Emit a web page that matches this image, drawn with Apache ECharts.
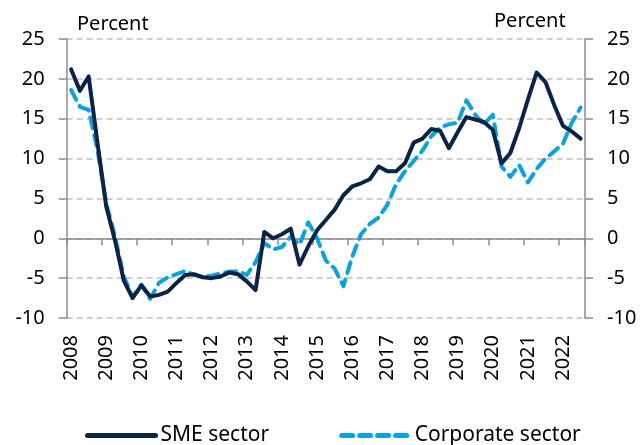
<!DOCTYPE html>
<html>
<head>
<meta charset="utf-8">
<script src="https://cdn.jsdelivr.net/npm/echarts@6/dist/echarts.min.js"></script>
<style>
html, body { margin: 0; padding: 0; background: #fff; }
#chart { width: 641px; height: 445px; }
</style>
</head>
<body>
<div id="chart"></div>
<script>
// quarterly data, 2008 Q1 - 2022 Q3
var years = ['2008','2009','2010','2011','2012','2013','2014','2015','2016','2017','2018','2019','2020','2021','2022'];
var yTicks = [-10, -5, 0, 5, 10, 15, 20, 25];

var smeSector = [
  21.2, 18.5, 20.3, 12.0,
  4.0, -0.3, -5.3, -7.5,
  -5.9, -7.3, -7.1, -6.7,
  -5.6, -4.6, -4.5, -4.9,
  -5.0, -4.8, -4.3, -4.5,
  -5.4, -6.5, 0.8, 0.0,
  0.5, 1.2, -3.3, -1.0,
  1.0, 2.3, 3.6, 5.4,
  6.5, 6.9, 7.4, 9.0,
  8.4, 8.4, 9.4, 12.0,
  12.5, 13.7, 13.5, 11.3,
  13.3, 15.2, 14.9, 14.6,
  13.6, 9.4, 10.7, 13.8,
  17.4, 20.8, 19.6, 16.7,
  14.1, 13.4, 12.5
];

var corporateSector = [
  18.6, 16.5, 16.1, 11.1,
  4.4, 0.2, -4.8, -7.4,
  -5.8, -7.6, -5.6, -4.9,
  -4.5, -4.1, -4.6, -4.8,
  -4.7, -4.4, -4.2, -4.1,
  -4.6, -3.0, -0.6, -1.4,
  -1.1, 0.2, -0.8, 2.0,
  0.0, -2.8, -3.8, -6.0,
  -2.3, 0.5, 1.8, 2.6,
  4.2, 6.8, 8.4, 9.7,
  11.0, 12.8, 13.9, 14.3,
  14.5, 17.3, 15.5, 14.3,
  15.5, 9.0, 7.7, 9.2,
  7.0, 8.7, 10.0, 10.9,
  11.9, 14.5, 16.4
];

var quarters = [];
years.forEach(function (y) {
  ['Q1', 'Q2', 'Q3', 'Q4'].forEach(function (q) {
    if (quarters.length < smeSector.length) quarters.push(y + q);
  });
});

var dom = document.getElementById('chart');
var myChart = echarts.init(dom, null, { renderer: 'canvas' });

var font = 'Noto Sans';
var gridLine = { show: true, lineStyle: { color: '#c0c0c0', width: 1.5, type: [6, 4] } };
var axisGray = '#8c8c8c';

var option = {
  animation: false,
  textStyle: { fontFamily: font },
  grid: { left: 66.7, right: 56, top: 39, bottom: 127 },
  graphic: [
    { type: 'text', left: 77, top: 14, style: { text: 'Percent', font: '20px "Noto Sans"', fill: '#000' } },
    { type: 'text', left: 494, top: 11, style: { text: 'Percent', font: '20px "Noto Sans"', fill: '#000' } }
  ],
  legend: {
    top: 420,
    left: 80,
    itemWidth: 68,
    itemHeight: 14,
    itemGap: 70,
    itemStyle: { opacity: 0 },
    lineStyle: { width: 5, cap: 'round' },
    textStyle: { fontFamily: font, fontSize: 21, color: '#000' },
    data: ['SME sector', 'Corporate sector']
  },
  xAxis: [
    {
      type: 'category',
      data: quarters,
      boundaryGap: true,
      axisLine: { onZero: true, lineStyle: { color: axisGray, width: 1.5 } },
      axisTick: { show: true, interval: 3, length: 7, lineStyle: { color: axisGray, width: 1.5 } },
      axisLabel: { show: false },
      splitLine: { show: false }
    },
    {
      type: 'category',
      data: quarters,
      position: 'bottom',
      boundaryGap: true,
      axisLine: { show: false, onZero: false },
      axisTick: { show: false },
      axisLabel: {
        interval: 3,
        rotate: 90,
        margin: 17,
        fontSize: 20,
        color: '#000',
        formatter: function (v) { return v.slice(0, 4); }
      },
      splitLine: { show: false }
    }
  ],
  yAxis: [
    {
      type: 'value',
      min: yTicks[0],
      max: yTicks[yTicks.length - 1],
      interval: 5,
      axisLine: { show: true, lineStyle: { color: axisGray, width: 1.5 } },
      axisTick: { show: true, length: 8, lineStyle: { color: axisGray, width: 1.5 } },
      axisLabel: { fontSize: 20, color: '#000', margin: 22 },
      splitLine: gridLine
    },
    {
      type: 'value',
      position: 'right',
      min: yTicks[0],
      max: yTicks[yTicks.length - 1],
      interval: 5,
      axisLine: { show: true, lineStyle: { color: axisGray, width: 1.5 } },
      axisTick: { show: true, length: 8, lineStyle: { color: axisGray, width: 1.5 } },
      axisLabel: { fontSize: 20, color: '#000', margin: 22 },
      splitLine: { show: false }
    }
  ],
  series: [
    {
      name: 'SME sector',
      type: 'line',
      data: smeSector,
      showSymbol: false,
      symbol: 'none',
      color: '#0b2346',
      lineStyle: { width: 4, color: '#0b2346', cap: 'round', join: 'round' },
      z: 3
    },
    {
      name: 'Corporate sector',
      type: 'line',
      data: corporateSector,
      showSymbol: false,
      symbol: 'none',
      color: '#0ba2e0',
      lineStyle: { width: 4, color: '#0ba2e0', type: [11, 7], cap: 'round', join: 'round' },
      z: 2
    }
  ]
};

if (option && typeof option === 'object') {
  myChart.setOption(option);
}

window.addEventListener('resize', myChart.resize);
</script>
</body>
</html>
